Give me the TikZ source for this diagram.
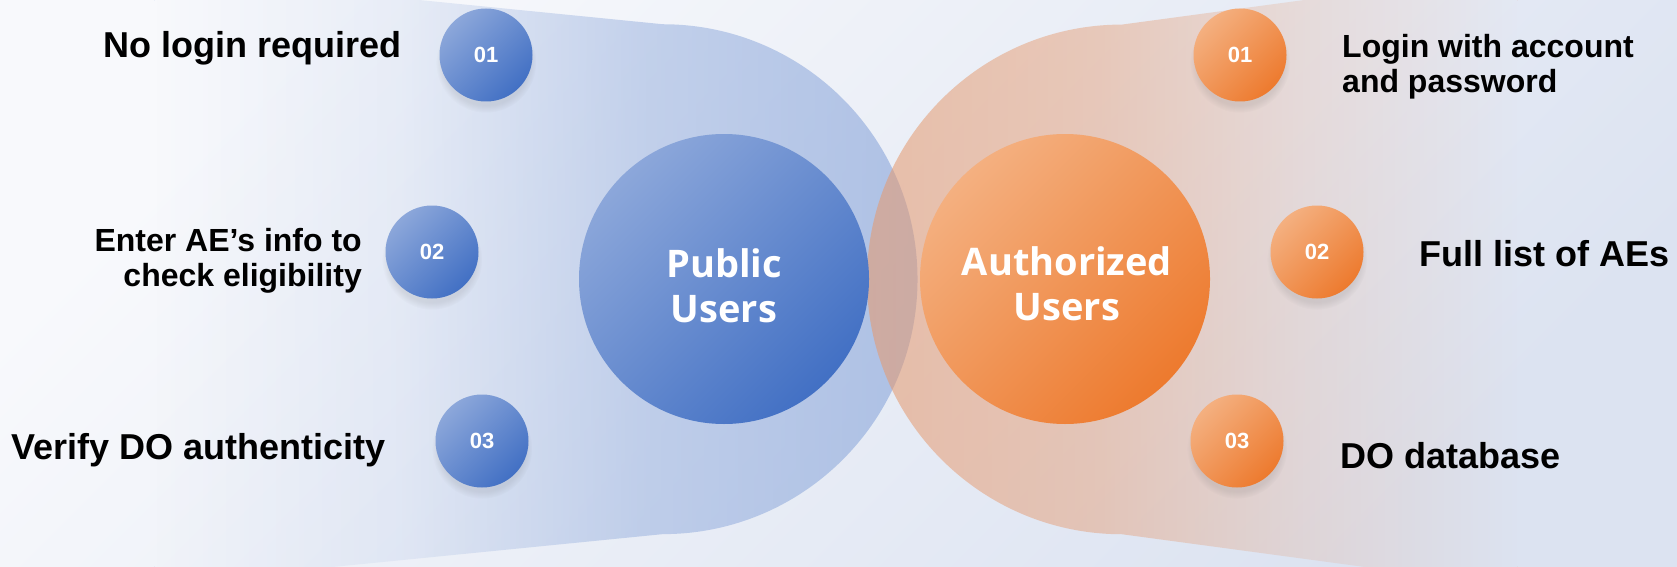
\documentclass[tikz,border=0pt]{standalone}
\usepackage{fontspec}
\setmainfont{Liberation Sans}
\newfontfamily\circlefont{Open Sans}
\usetikzlibrary{fadings,shadows}

\definecolor{bgtop}{HTML}{F8F9FC}
\definecolor{bgbottom}{HTML}{DCE3F1}
\definecolor{blueshape}{HTML}{9AB2DF}
\definecolor{orangeshape}{HTML}{E59A70}
\definecolor{bluelight}{HTML}{8CA7DA}
\definecolor{bluedark}{HTML}{4270C4}
\definecolor{orangelight}{HTML}{F4B080}
\definecolor{orangedark}{HTML}{ED7A2E}

% the path box is the middle 50bp of these pictures
\begin{tikzfadingfrompicture}[name=blueramp]
\fill[transparent!100] (-50bp,-50bp) rectangle (-14bp,50bp);
\shade[left color=transparent!100,right color=transparent!79] (-14bp,-50bp) rectangle (-1.5bp,50bp);
\shade[left color=transparent!79,right color=transparent!28] (-1.5bp,-50bp) rectangle (11bp,50bp);
\shade[left color=transparent!28,right color=transparent!0] (11bp,-50bp) rectangle (25bp,50bp);
\fill[transparent!0] (25bp,-50bp) rectangle (50bp,50bp);
\end{tikzfadingfrompicture}
\begin{tikzfadingfrompicture}[name=orangeramp]
\fill[transparent!0] (-50bp,-50bp) rectangle (-25bp,50bp);
\shade[left color=transparent!0,right color=transparent!23] (-25bp,-50bp) rectangle (-11bp,50bp);
\shade[left color=transparent!23,right color=transparent!65] (-11bp,-50bp) rectangle (1bp,50bp);
\shade[left color=transparent!65,right color=transparent!100] (1bp,-50bp) rectangle (14bp,50bp);
\fill[transparent!100] (14bp,-50bp) rectangle (50bp,50bp);
\end{tikzfadingfrompicture}

\begin{document}
\begin{tikzpicture}[x=1pt,y=-1pt,
  bignode/.style={circle,minimum size=290pt,inner sep=0pt},
  bigtext/.style={text=white,align=center,inner sep=0pt,font=\circlefont\bfseries\fontsize{38}{45}\selectfont},
  numnode/.style={circle,minimum size=93pt,inner sep=0pt,text=white,font=\bfseries\fontsize{22}{26}\selectfont,
    circular drop shadow={shadow xshift=0pt,shadow yshift=-7pt,shadow scale=1.08,opacity=0.12,fill=black!70}},
  bluegrad/.style={top color=bluelight,bottom color=bluedark,shading angle=45},
  orangegrad/.style={top color=orangelight,bottom color=orangedark,shading angle=45},
  itemtext/.style={inner sep=0pt,font=\bfseries\fontsize{36}{40}\selectfont},
  itempair/.style={inner sep=0pt,font=\bfseries\fontsize{32}{35}\selectfont}]
\useasboundingbox (0,0) rectangle (1677,567);
\clip (0,0) rectangle (1677,567);
\shade[top color=bgtop,bottom color=bgbottom,shading angle=45] (0,0) rectangle (1677,567);
% the two wide lobes
\fill[blueshape,fill opacity=0.75,path fading=blueramp] (664,24) -- (-60,-48) -- (-60,606) -- (664,534) arc[start angle=90,end angle=-90,radius=255] -- cycle;
\fill[orangeshape,fill opacity=0.58,path fading=orangeramp] (1122,24) arc[start angle=270,end angle=90,radius=255] -- (1700,612) -- (1700,-54) -- cycle;
% main circles
\node[bignode,bluegrad] (pubcircle) at (724,279) {};
\node[bignode,orangegrad] (authcircle) at (1065,279) {};
\node[bigtext] (pubtext) at (724,286) {Public\\Users};
\node[bigtext] (authtext) at (1067,284) {Authorized\\Users};
% numbered circles
\node[numnode,bluegrad] (pub1) at (486,55) {01};
\node[numnode,bluegrad] (pub2) at (432,252) {02};
\node[numnode,bluegrad] (pub3) at (482,441) {03};
\node[numnode,orangegrad] (auth1) at (1240,55) {01};
\node[numnode,orangegrad] (auth2) at (1317,252) {02};
\node[numnode,orangegrad] (auth3) at (1237,441) {03};
% notes
\node[itemtext,anchor=base east] (pubnote1) at (402,58) {No login required};
\node[itempair,anchor=east,align=right] (pubnote2) at (362,261) {Enter AE’s info to\\check eligibility};
\node[itemtext,anchor=base west] (pubnote3) at (11,459) {Verify DO authenticity};
\node[itempair,anchor=west,align=left] (authnote1) at (1342,67) {Login with account\\and password};
\node[itemtext,anchor=base west] (authnote2) at (1419,266) {Full list of AEs};
\node[itemtext,anchor=base west] (authnote3) at (1340,468) {DO database};
\end{tikzpicture}
\end{document}
